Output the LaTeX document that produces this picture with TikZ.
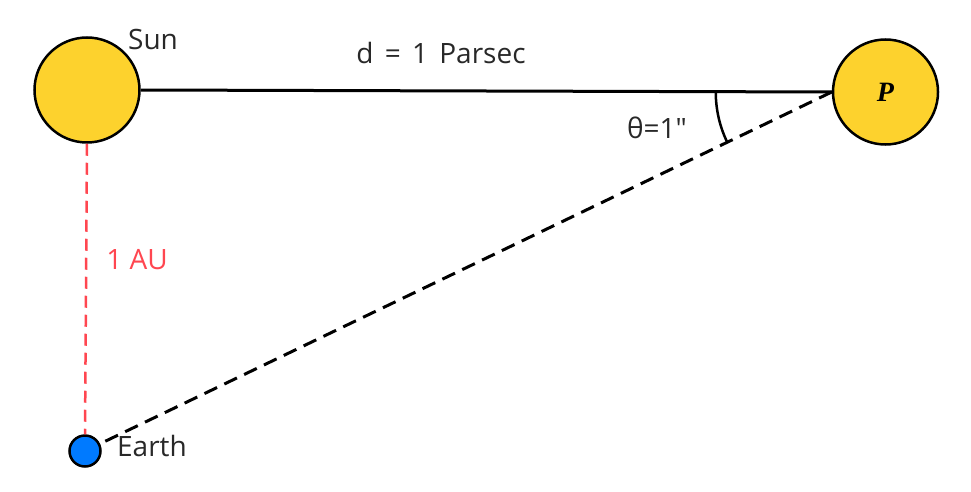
\documentclass[tikz,border=0pt]{standalone}
\usepackage{fontspec}
\setmainfont{Open Sans}
\newfontfamily\plainfont{Open Sans}[Ligatures=TeXOff]
\newfontfamily\pfont{Liberation Serif}
\definecolor{sunyellow}{RGB}{253,210,45}
\definecolor{earthblue}{RGB}{0,122,255}
\definecolor{aured}{RGB}{255,70,80}
\definecolor{txt}{RGB}{40,40,40}
\begin{document}
\begin{tikzpicture}[x=1pt,y=1pt,
  body/.style={circle,draw=black,line width=2.5pt,inner sep=0pt},
  lbl/.style={text=txt,font=\fontsize{28}{32}\selectfont,inner sep=0pt}]
\useasboundingbox (0,0) rectangle (971,-492);
\node[body,fill=sunyellow,minimum size=105] (sun) at (87,-90) {};
\node[body,fill=sunyellow,minimum size=105] (P) at (885.5,-92) {\pfont\fontsize{28}{32}\selectfont\bfseries\itshape P};
\node[body,fill=earthblue,minimum size=31] (earth) at (85,-451) {};
\coordinate (V) at (P.west);
\draw[line width=3pt] (sun.east) -- (V);
\draw[line width=3pt,dash pattern=on 14pt off 8pt] (V) -- (earth);
\draw[aured,line width=2.5pt,dash pattern=on 12pt off 7pt] (sun.south) -- (earth.north);
\draw[line width=2.5pt] ([shift={(180:116)}]V) arc[start angle=180,end angle=205.7,radius=116];
\node[lbl] (sunl) at (153,-40) {Sun};
\node[lbl] (dl) at (441,-53) {d\hspace{4pt} = \hspace{4pt}1\hspace{4pt} Parsec};
\node[lbl] (th) at (657,-128) {\plainfont θ=1"};
\node[lbl,text=aured] (au) at (137,-260) {1 AU};
\node[lbl] (el) at (152,-446) {Earth};
\end{tikzpicture}
\end{document}
